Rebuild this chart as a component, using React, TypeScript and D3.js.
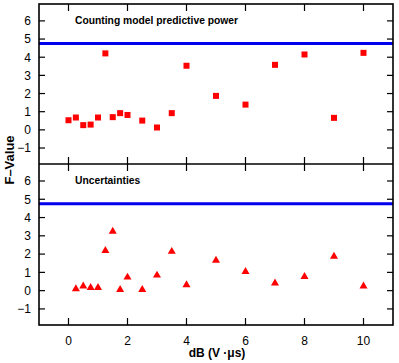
import React from "react";
import * as d3 from "d3";

const topX = [0, 0.25, 0.5, 0.75, 1, 1.25, 1.5, 1.75, 2, 2.5, 3, 3.5, 4, 5, 6, 7, 8, 9, 10];
const topY = [0.53, 0.68, 0.26, 0.29, 0.68, 4.21, 0.7, 0.92, 0.82, 0.51, 0.13, 0.92, 3.53, 1.87, 1.39, 3.58, 4.15, 0.66, 4.24];
const botX = [0.25, 0.5, 0.75, 1, 1.25, 1.5, 1.75, 2, 2.5, 3, 3.5, 4, 5, 6, 7, 8, 9, 10];
const botY = [0.09, 0.24, 0.16, 0.16, 2.19, 3.24, 0.05, 0.73, 0.05, 0.84, 2.14, 0.31, 1.65, 1.04, 0.41, 0.77, 1.87, 0.24];
const threshold = 4.75;
const xTicks = [0, 2, 4, 6, 8, 10];
const yTicks = [-1, 0, 1, 2, 3, 4, 5, 6];
const topTitle = "Counting model predictive power";
const botTitle = "Uncertainties";
const xLabel = "dB (V \u00b7\u03bcs)";
const yLabel = "F\u2013Value";

const L = 39, R = 393, T = 4, MID = 164, B = 325;
const font = "Liberation Sans, Arial, Helvetica, sans-serif";

function Panel({ top, bottom, xs, ys, marker, title }: any) {
  const x = d3.scaleLinear().domain([-1, 11]).range([L, R]);
  const y = d3.scaleLinear().domain([-1.88, 6.93]).range([bottom, top]);
  const tri = d3.symbol().type(d3.symbolTriangle).size(28)();
  return (
    <g>
      <line x1={L} x2={R} y1={y(threshold)} y2={y(threshold)} stroke="#0000ee" strokeWidth={3} />
      {yTicks.map((t) => (
        <g key={"y" + t}>
          <line x1={L} x2={L + 6} y1={y(t)} y2={y(t)} stroke="#000" strokeWidth={1.2} />
          <line x1={R - 6} x2={R} y1={y(t)} y2={y(t)} stroke="#000" strokeWidth={1.2} />
          <text x={L - 8} y={y(t)} dy="0.36em" textAnchor="end" fontSize={12} fontFamily={font}>
            {t < 0 ? "\u2212" + Math.abs(t) : t}
          </text>
        </g>
      ))}
      {xTicks.map((t) => (
        <g key={"x" + t}>
          <line x1={x(t)} x2={x(t)} y1={top} y2={top + 7} stroke="#000" strokeWidth={1.2} />
          <line x1={x(t)} x2={x(t)} y1={bottom} y2={bottom - 7} stroke="#000" strokeWidth={1.2} />
        </g>
      ))}
      <text x={75} y={top + 19.5} fontSize={10.3} fontWeight="bold" fontFamily={font}>{title}</text>
      {xs.map((v: number, i: number) =>
        marker === "square" ? (
          <rect key={i} x={x(v) - 3} y={y(ys[i]) - 3} width={6} height={6} fill="#ff0000" />
        ) : (
          <path key={i} d={tri as string} transform={`translate(${x(v)},${y(ys[i])})`} fill="#ff0000" />
        )
      )}
    </g>
  );
}

export default function App() {
  const x = d3.scaleLinear().domain([-1, 11]).range([L, R]);
  return (
    <svg width={399} height={363} style={{ position: "absolute", left: 0, top: 0 }}>
      <rect width={399} height={363} fill="#fff" />
      <Panel top={T} bottom={MID} xs={topX} ys={topY} marker="square" title={topTitle} />
      <Panel top={MID} bottom={B} xs={botX} ys={botY} marker="tri" title={botTitle} />
      <rect x={L} y={T} width={R - L} height={B - T} fill="none" stroke="#000" strokeWidth={1.6} />
      <line x1={L} x2={R} y1={MID} y2={MID} stroke="#000" strokeWidth={1.6} />
      {xTicks.map((t) => (
        <text key={t} x={x(t)} y={345} textAnchor="middle" fontSize={12} fontFamily={font}>{t}</text>
      ))}
      <text x={217} y={357} textAnchor="middle" fontSize={12} fontWeight="bold" fontFamily={font}>{xLabel}</text>
      <text transform="translate(14,160) rotate(-90)" textAnchor="middle" fontSize={13} fontWeight="bold" fontFamily={font}>{yLabel}</text>
    </svg>
  );
}
